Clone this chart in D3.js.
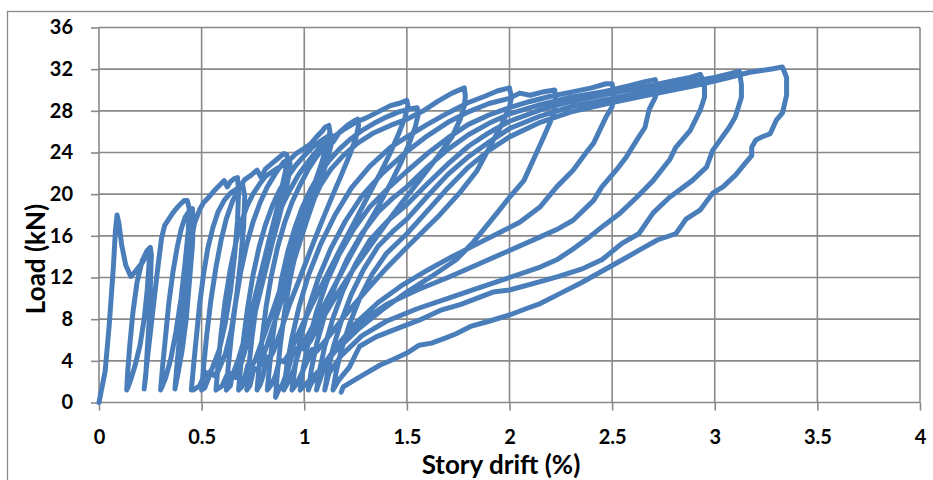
<!DOCTYPE html>
<html>
<head>
<meta charset="utf-8">
<script src="https://cdn.jsdelivr.net/npm/d3@7"></script>
<style>
body { margin: 0; background: #fff; }
svg { display: block; font-family: Lato, "Liberation Sans", sans-serif; font-weight: bold; }
</style>
</head>
<body>
<div id="chart"></div>
<script>
const xTicks = [0, 0.5, 1, 1.5, 2, 2.5, 3, 3.5, 4];
const yTicks = [0, 4, 8, 12, 16, 20, 24, 28, 32, 36];

// story drift (%), load (kN) -- one cycle per array, in test order
const cycle01 = [[0,0],[0.01,1],[0.03,3],[0.05,7.5],[0.07,13],[0.08,16.5],[0.088,18],[0.097,17.2],[0.11,15.2],[0.13,13.2],[0.155,12.1],[0.17,12.4],[0.19,12.9],[0.21,13.4],[0.225,13.9],[0.24,14.4],[0.245,13.6],[0.235,10.8],[0.22,8],[0.2,5.5],[0.175,3.5],[0.155,2.2],[0.14,1.4],[0.135,1.2]];
const cycle02 = [[0.135,1.2],[0.14,3],[0.15,5.5],[0.165,8.6],[0.185,11.5],[0.21,13.6],[0.235,14.6],[0.25,14.9],[0.255,14.2],[0.25,11],[0.245,8],[0.235,5],[0.228,2.6],[0.22,1.3]];
const cycle03 = [[0.22,1.3],[0.23,3.2],[0.245,5.8],[0.26,8.4],[0.275,11],[0.29,13.5],[0.305,15.8],[0.32,17],[0.34,17.6],[0.36,18.2],[0.38,18.7],[0.4,19.1],[0.415,19.4],[0.43,19.4],[0.44,18.6],[0.435,16.5],[0.42,13.5],[0.4,10],[0.375,6.8],[0.35,4.2],[0.325,2.4],[0.305,1.4],[0.3,1.2]];
const cycle04 = [[0.3,1.2],[0.31,3.5],[0.325,6.5],[0.34,9.5],[0.36,12.5],[0.38,14.8],[0.4,16.6],[0.42,17.8],[0.44,18.4],[0.455,18.6],[0.46,17.5],[0.455,15],[0.44,11.5],[0.425,8],[0.405,5],[0.385,2.8],[0.37,1.3]];
const cycle05 = [[0.37,1.3],[0.38,3.6],[0.395,6.8],[0.41,10],[0.43,13],[0.45,15.5],[0.465,17.2],[0.475,17.7],[0.49,18.5],[0.51,19.2],[0.53,19.6],[0.56,20.3],[0.59,20.9],[0.61,21.3],[0.625,20.7],[0.64,21.2],[0.66,21.5],[0.675,21.6],[0.68,20.2],[0.675,17.5],[0.66,14],[0.64,10.6],[0.615,7.6],[0.585,5],[0.55,3.2],[0.53,2.6],[0.52,2.9],[0.49,1.6],[0.46,1.2],[0.45,1.2]];
const cycle06 = [[0.45,1.2],[0.46,3.4],[0.475,6.4],[0.49,9.4],[0.51,12.4],[0.53,14.8],[0.555,16.8],[0.58,18.3],[0.61,19.4],[0.64,20.1],[0.67,20.5],[0.7,20.9],[0.71,19.8],[0.705,17],[0.69,13.6],[0.67,10.2],[0.645,7],[0.615,4.6],[0.58,3],[0.56,2.6],[0.545,2.9],[0.515,1.4],[0.5,1.2]];
const cycle07 = [[0.5,1.2],[0.51,3.5],[0.525,6.5],[0.545,9.8],[0.57,13],[0.595,15.6],[0.62,17.6],[0.65,19.3],[0.68,20.5],[0.71,21.4],[0.74,21.8],[0.77,22.3],[0.79,21.6],[0.81,22.4],[0.84,22.9],[0.87,23.4],[0.9,23.9],[0.915,23.8],[0.918,23.2],[0.905,21.9],[0.885,20.1],[0.86,18],[0.83,15.7],[0.8,13.3],[0.77,10.9],[0.74,8.5],[0.71,6.2],[0.68,4.2],[0.65,2.6],[0.63,2.9],[0.6,1.6],[0.57,1.2]];
const cycle08 = [[0.57,1.2],[0.58,3.6],[0.595,6.6],[0.615,9.8],[0.64,12.8],[0.665,15.2],[0.69,17.1],[0.72,18.8],[0.75,20],[0.78,20.9],[0.81,21.7],[0.84,22.1],[0.87,22.5],[0.9,22.8],[0.93,23],[0.932,22.5],[0.92,21.3],[0.9,19.6],[0.875,17.6],[0.845,15.4],[0.815,13],[0.785,10.6],[0.755,8.2],[0.725,5.9],[0.695,3.9],[0.665,2.4],[0.65,2.7],[0.64,1.6],[0.62,1.2]];
const cycle09 = [[0.62,1.2],[0.63,3.5],[0.645,6.4],[0.665,9.5],[0.69,12.5],[0.72,15.2],[0.75,17.3],[0.785,19.2],[0.82,20.7],[0.86,22],[0.9,23.1],[0.93,23.3],[0.96,23.9],[1,24.4],[1.03,24.8],[1.06,25.5],[1.09,26.1],[1.1,26.4],[1.12,26.6],[1.125,26],[1.11,24.7],[1.085,23],[1.05,21],[1.01,18.7],[0.97,16.3],[0.93,13.8],[0.89,11.3],[0.845,8.7],[0.8,6.2],[0.76,4],[0.74,3.4],[0.725,3.6],[0.71,2.4],[0.695,1.5],[0.68,1.2]];
const cycle10 = [[0.68,1.2],[0.69,3.4],[0.705,6.2],[0.725,9.2],[0.75,12.2],[0.78,14.9],[0.81,17],[0.845,18.9],[0.88,20.4],[0.92,21.7],[0.96,22.8],[1,23.7],[1.04,24.5],[1.08,25.1],[1.11,25.5],[1.13,25.7],[1.135,25.1],[1.12,23.9],[1.095,22.2],[1.06,20.2],[1.02,17.9],[0.98,15.5],[0.94,13],[0.9,10.5],[0.86,8],[0.82,5.6],[0.785,3.6],[0.77,3.1],[0.755,3.3],[0.735,1.6],[0.72,1.2]];
const cycle11 = [[0.72,1.2],[0.73,3.4],[0.745,6.2],[0.765,9.2],[0.79,12.1],[0.82,14.8],[0.855,17],[0.89,18.8],[0.93,20.4],[0.97,21.8],[1.01,22.9],[1.05,23.9],[1.09,24.8],[1.13,25.5],[1.14,25],[1.17,25.9],[1.21,26.6],[1.24,27],[1.26,27.2],[1.265,26.6],[1.25,25.3],[1.22,23.7],[1.18,21.8],[1.13,19.5],[1.08,17.1],[1.03,14.6],[0.98,12],[0.93,9.5],[0.89,7.1],[0.85,4.9],[0.83,4.2],[0.815,4.4],[0.8,2.6],[0.785,1.7],[0.77,1.2]];
const cycle12 = [[0.77,1.2],[0.78,3.4],[0.795,6.2],[0.815,9.3],[0.84,12.2],[0.87,14.9],[0.905,17.3],[0.94,19.2],[0.98,20.9],[1.02,22.4],[1.06,23.6],[1.1,24.6],[1.15,25.6],[1.2,26.3],[1.25,26.9],[1.3,27.3],[1.36,27.9],[1.42,28.5],[1.46,28.7],[1.5,29],[1.505,28.5],[1.49,27.3],[1.46,25.8],[1.42,24],[1.37,22],[1.31,19.8],[1.25,17.5],[1.18,14.9],[1.11,12.2],[1.04,9.5],[0.98,7],[0.93,4.8],[0.9,3.9],[0.88,4.1],[0.86,2.6],[0.84,1.7],[0.82,1.2]];
const cycle13 = [[0.82,1.2],[0.83,3.3],[0.845,6],[0.865,9],[0.89,11.9],[0.92,14.5],[0.955,16.8],[0.99,18.7],[1.03,20.4],[1.07,21.8],[1.12,23.2],[1.17,24.3],[1.22,25.2],[1.28,26.1],[1.34,26.8],[1.4,27.4],[1.46,27.9],[1.52,28.2],[1.55,28.3],[1.555,27.6],[1.54,26.4],[1.51,24.8],[1.47,23],[1.42,21],[1.36,18.8],[1.29,16.4],[1.22,13.9],[1.15,11.3],[1.08,8.7],[1.01,6.2],[0.97,5],[0.95,5.2],[0.92,3.1],[0.895,1.8],[0.875,1.2],[0.86,0.5]];
const cycle14 = [[0.86,0.5],[0.87,3],[0.885,5.8],[0.905,8.8],[0.93,11.8],[0.96,14.5],[0.995,16.9],[1.035,19],[1.08,20.9],[1.13,22.4],[1.19,23.7],[1.26,24.9],[1.34,25.9],[1.42,26.6],[1.5,27.2],[1.58,28],[1.65,28.9],[1.72,29.7],[1.78,30.2],[1.785,29.4],[1.78,28.5],[1.76,27.2],[1.72,25.5],[1.65,23.6],[1.56,21.3],[1.48,19.3],[1.4,17.2],[1.32,15],[1.24,12.8],[1.16,10.4],[1.09,8.1],[1.03,5.9],[1.0,5.1],[0.98,5.3],[0.95,3.2],[0.92,1.9],[0.9,1.2]];
const cycle15 = [[0.9,1.2],[0.915,3.5],[0.94,6.2],[0.975,9.2],[1.02,12.2],[1.08,15.2],[1.15,18],[1.23,20.6],[1.32,22.7],[1.42,24.5],[1.5,25.5],[1.6,26.7],[1.7,27.8],[1.8,28.8],[1.88,29.4],[1.94,29.9],[2,30.2],[2.01,29.3],[2,28.4],[1.96,26.6],[1.9,24.4],[1.84,22.2],[1.76,20.2],[1.65,17.8],[1.51,15.1],[1.4,12.9],[1.3,10.7],[1.2,8.4],[1.11,6.1],[1.06,4.9],[1.04,5.1],[0.99,2.9],[0.96,1.7],[0.94,1.2]];
const cycle16 = [[0.94,1.2],[0.955,3.4],[0.98,6],[1.02,9],[1.07,12],[1.13,14.8],[1.2,17.4],[1.28,19.8],[1.38,22],[1.5,24.1],[1.6,25.6],[1.7,26.9],[1.8,27.9],[1.9,28.7],[2,29.2],[2.05,29.7],[2.1,29.5],[2.16,29.8],[2.22,30],[2.225,29],[2.21,27.5],[2.196,26.8],[2.16,25.2],[2.13,23.9],[2.07,21.3],[2,19.7],[1.94,18.2],[1.82,15.3],[1.74,13.7],[1.62,12.1],[1.5,10.6],[1.38,8.9],[1.26,7],[1.15,4.9],[1.07,3],[1,1.6],[0.98,1.2]];
const cycle17 = [[0.98,1.2],[0.995,3.3],[1.02,5.8],[1.06,8.7],[1.11,11.6],[1.17,14.2],[1.24,16.6],[1.32,18.8],[1.41,20.6],[1.5,22.2],[1.6,23.9],[1.7,25.4],[1.8,26.7],[1.9,27.6],[2,28.3],[2.1,28.9],[2.2,29.4],[2.3,29.8],[2.4,30.2],[2.47,30.6],[2.5,30.6],[2.51,29.5],[2.5,28.4],[2.47,27.4],[2.41,24.9],[2.37,23.9],[2.31,22.3],[2.23,20.7],[2.15,18.8],[2.05,17.3],[1.95,16.3],[1.85,15.3],[1.72,14],[1.6,12.7],[1.48,11.3],[1.36,9.6],[1.25,7.6],[1.15,5.2],[1.08,3.2],[1.03,1.7],[1.02,1.2]];
const cycle18 = [[1.02,1.2],[1.035,3.2],[1.06,5.6],[1.1,8.4],[1.15,11.2],[1.21,13.8],[1.28,16.2],[1.36,18.3],[1.43,19.6],[1.5,20.7],[1.6,22.6],[1.7,24.3],[1.8,25.7],[1.9,26.8],[2,27.7],[2.15,28.6],[2.3,29.3],[2.45,29.8],[2.58,30.4],[2.66,30.8],[2.71,31],[2.72,30],[2.71,29.3],[2.68,28.1],[2.66,26.4],[2.63,25.5],[2.57,23.6],[2.52,22.3],[2.45,20.7],[2.41,19.4],[2.31,17.5],[2.23,16.6],[2.15,15.9],[2,14.6],[1.85,13.3],[1.7,12],[1.55,10.8],[1.4,9.4],[1.28,7.8],[1.17,5.6],[1.1,3.5],[1.07,1.8],[1.06,1.2]];
const cycle19 = [[1.06,1.2],[1.075,3.1],[1.1,5.4],[1.14,8.1],[1.19,10.8],[1.25,13.3],[1.32,15.6],[1.41,17.5],[1.5,19],[1.6,21],[1.7,22.9],[1.8,24.6],[1.9,25.9],[2,27],[2.15,28.1],[2.3,28.9],[2.5,29.7],[2.68,30.4],[2.8,30.9],[2.88,31.2],[2.93,31.5],[2.95,30.5],[2.95,29.3],[2.93,28.1],[2.88,26.1],[2.81,24.5],[2.78,23.3],[2.7,21.3],[2.62,19.7],[2.54,18.2],[2.46,17],[2.39,15.9],[2.3,14.6],[2.23,13.7],[2.15,13],[2,12],[1.85,11],[1.7,10],[1.55,9],[1.4,7.8],[1.28,6.4],[1.18,4.5],[1.12,2.8],[1.1,1.2]];
const cycle20 = [[1.1,1.2],[1.115,3],[1.14,5.2],[1.18,7.8],[1.23,10.4],[1.29,12.8],[1.36,15],[1.43,16.4],[1.5,17.6],[1.6,19.8],[1.7,21.9],[1.8,23.6],[1.9,25],[2,26.3],[2.15,27.5],[2.3,28.4],[2.5,29.2],[2.7,30],[2.88,30.8],[3,31.2],[3.08,31.6],[3.12,31.8],[3.13,30.5],[3.13,29.3],[3.1,27.4],[3.07,26.4],[2.99,24.2],[2.96,22.6],[2.89,21.3],[2.78,19.7],[2.7,18.2],[2.63,16.2],[2.55,15.3],[2.45,13.7],[2.35,12.8],[2.24,12.1],[2.15,11.6],[2,10.8],[1.92,10.6],[1.76,9.4],[1.67,8.9],[1.56,7.9],[1.48,7.3],[1.35,6.3],[1.27,5.4],[1.22,3.4],[1.17,2.2],[1.14,1.2]];
const cycle21 = [[1.14,1.2],[1.155,2.9],[1.18,5],[1.22,7.5],[1.27,10],[1.33,12.3],[1.4,14.3],[1.5,16.2],[1.6,18.4],[1.7,20.6],[1.8,22.6],[1.9,24.2],[2,25.5],[2.15,26.9],[2.3,27.9],[2.5,28.8],[2.7,29.6],[2.9,30.4],[3.05,31.1],[3.17,31.7],[3.27,32],[3.33,32.2],[3.35,31.2],[3.35,29.5],[3.33,27.8],[3.3,27.1],[3.27,25.8],[3.23,25.5],[3.2,25.2],[3.18,24.5],[3.18,23.7],[3.15,23],[3.1,21.8],[3.04,20.7],[2.99,20.1],[2.93,18.5],[2.86,17.6],[2.81,16.2],[2.72,15.6],[2.63,14.6],[2.55,13.7],[2.45,12.6],[2.35,11.5],[2.25,10.5],[2.15,9.5],[2.08,9],[2,8.4],[1.9,7.8],[1.81,7.3],[1.74,6.6],[1.69,6.2],[1.62,5.7],[1.56,5.5],[1.5,4.75],[1.43,4.1],[1.37,3.6],[1.3,2.8],[1.24,2.1],[1.19,1.5],[1.18,1]];

const cycles = [cycle01, cycle02, cycle03, cycle04, cycle05, cycle06, cycle07,
                cycle08, cycle09, cycle10, cycle11, cycle12, cycle13, cycle14,
                cycle15, cycle16, cycle17, cycle18, cycle19, cycle20, cycle21];

const svgWidth = 933;
const svgHeight = 480;
const plotLeft = 99;
const plotRight = 920;
const plotTop = 27.5;
const plotBottom = 402.5;
const gridColor = "#898989";

const svg = d3.select("#chart")
    .append("svg")
    .attr("width", svgWidth)
    .attr("height", svgHeight);

// chart area border (runs off the right and bottom edges)
svg.append("rect")
    .attr("x", 7.5)
    .attr("y", 11.5)
    .attr("width", 940)
    .attr("height", 480)
    .attr("fill", "none")
    .attr("stroke", gridColor)
    .attr("stroke-width", 1.3);

const scaleX = d3.scaleLinear().domain([0, 4]).range([plotLeft, plotRight]);
const scaleY = d3.scaleLinear().domain([0, 36]).range([plotBottom, plotTop]);

svg.append("g")
    .selectAll("line")
    .data(yTicks)
    .enter()
    .append("line")
    .attr("x1", plotLeft)
    .attr("x2", plotRight)
    .attr("y1", d => scaleY(d))
    .attr("y2", d => scaleY(d))
    .attr("stroke", gridColor)
    .attr("stroke-width", 1.6);

svg.append("g")
    .selectAll("line")
    .data(xTicks)
    .enter()
    .append("line")
    .attr("x1", d => scaleX(d))
    .attr("x2", d => scaleX(d))
    .attr("y1", plotTop)
    .attr("y2", plotBottom)
    .attr("stroke", gridColor)
    .attr("stroke-width", 1.6);

const xAxis = d3.axisBottom(scaleX)
    .tickValues(xTicks)
    .tickSize(8)
    .tickFormat(d3.format("~g"));
const yAxis = d3.axisLeft(scaleY)
    .tickValues(yTicks)
    .tickSize(8)
    .tickPadding(18);

const gx = svg.append("g")
    .attr("transform", `translate(0,${plotBottom})`)
    .call(xAxis);
const gy = svg.append("g")
    .attr("transform", `translate(${plotLeft},0)`)
    .call(yAxis);

[gx, gy].forEach(g => {
    g.attr("font-family", null).attr("font-size", null);
    g.select(".domain").remove();
    g.selectAll(".tick line").attr("stroke", gridColor).attr("stroke-width", 1.6);
    g.selectAll(".tick text").attr("fill", "#000").style("font-size", "20px");
});
gx.selectAll(".tick text").attr("y", 34).attr("dy", "0.35em");

const line = d3.line()
    .x(d => scaleX(d[0]))
    .y(d => scaleY(d[1]));

svg.append("path")
    .datum(cycles.flat())
    .attr("d", line)
    .attr("fill", "none")
    .attr("stroke", "#4a7ebb")
    .attr("stroke-width", 5)
    .attr("stroke-linejoin", "round")
    .attr("stroke-linecap", "round");

svg.append("text")
    .attr("x", 501)
    .attr("y", 474)
    .attr("text-anchor", "middle")
    .style("font-size", "26px")
    .text("Story drift (%)");

svg.append("text")
    .attr("transform", "rotate(-90)")
    .attr("x", -259)
    .attr("y", 45)
    .attr("text-anchor", "middle")
    .style("font-size", "26px")
    .text("Load (kN)");
</script>
</body>
</html>
